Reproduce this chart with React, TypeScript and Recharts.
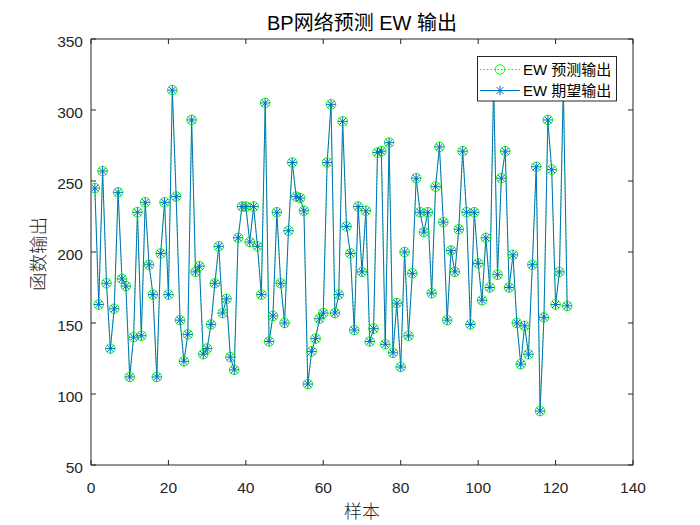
import React from "react";
import { LineChart, Line, XAxis, YAxis, Legend } from "recharts";

// EW 期望输出 (expected) and EW 预测输出 (predicted), per sample
const expected = [
  245, 163, 257, 178, 132, 160, 242, 181, 176, 112,
  140, 228, 141, 235, 191, 170, 112, 199, 235, 170,
  314, 239, 152, 123, 142, 293, 186, 190, 128, 132,
  149, 178, 204, 157, 167, 126, 117, 210, 232, 232,
  207, 232, 204, 170, 305, 137, 155, 228, 178, 150,
  215, 263, 239, 238, 229, 107, 130, 139, 153, 157,
  263, 304, 157, 170, 292, 218, 199, 145, 232, 186,
  229, 137, 146, 270, 271, 135, 277, 129, 164, 119,
  200, 141, 185, 252, 228, 214, 228, 171, 246, 274,
  221, 152, 201, 186, 216, 271, 228, 149, 228, 192,
  166, 210, 175, 318, 184, 252, 271, 175, 198, 150,
  121, 148, 128, 191, 260, 88, 154, 293, 258, 163,
  186, 316, 162,
];
const predicted = [
  245, 163, 257, 178, 132, 160, 242, 181, 176, 112,
  140, 228, 141, 235, 191, 170, 112, 199, 235, 170,
  314, 239, 152, 123, 142, 293, 186, 190, 128, 132,
  149, 178, 204, 157, 167, 126, 117, 210, 232, 232,
  207, 232, 204, 170, 305, 137, 155, 228, 178, 150,
  215, 263, 239, 238, 229, 107, 130, 139, 153, 157,
  263, 304, 157, 170, 292, 218, 199, 145, 232, 186,
  229, 137, 146, 270, 271, 135, 277, 129, 164, 119,
  200, 141, 185, 252, 228, 214, 228, 171, 246, 274,
  221, 152, 201, 186, 216, 271, 228, 149, 228, 192,
  166, 210, 175, 318, 184, 252, 271, 175, 198, 150,
  121, 148, 128, 191, 260, 88, 154, 293, 258, 163,
  186, 316, 162,
];
const samples = expected.map((_, i) => i + 1);

const xTicks = [0, 20, 40, 60, 80, 100, 120, 140];
const yTicks = [50, 100, 150, 200, 250, 300, 350];

const data = samples.map((s, i) => ({ x: s, pred: predicted[i], exp: expected[i] }));

const AX = "#262626";
const BLUE = "#0072BD";
const GREEN = "#00FF00";
const NUM_FONT = '"Liberation Sans", Arial, sans-serif';
const CJK_FONT = '"Liberation Sans", "Noto Sans CJK SC", sans-serif';

function Circle({ cx, cy }: any) {
  return <circle cx={cx} cy={cy} r={4.8} fill="none" stroke={GREEN} strokeWidth={1} />;
}

function Star({ cx, cy }: any) {
  const s = 4.8;
  const d = 3.4;
  return (
    <g stroke={BLUE} strokeWidth={1}>
      <line x1={cx - s} y1={cy} x2={cx + s} y2={cy} />
      <line x1={cx} y1={cy - s} x2={cx} y2={cy + s} />
      <line x1={cx - d} y1={cy - d} x2={cx + d} y2={cy + d} />
      <line x1={cx - d} y1={cy + d} x2={cx + d} y2={cy - d} />
    </g>
  );
}

const tickText = { fontFamily: NUM_FONT, fontSize: 15.5, fill: AX };

function BottomTick({ x, y, payload }: any) {
  return (
    <g>
      <line x1={x} x2={x} y1={y} y2={y - 5} stroke={AX} />
      <text x={x} y={y + 27.5} textAnchor="middle" {...tickText}>{payload.value}</text>
    </g>
  );
}
function TopTick({ x, y }: any) {
  return <line x1={x} x2={x} y1={y} y2={y + 5} stroke={AX} />;
}
function LeftTick({ x, y, payload }: any) {
  return (
    <g>
      <line x1={x} x2={x + 5} y1={y} y2={y} stroke={AX} />
      <text x={x - 8} y={y + 7.5} textAnchor="end" {...tickText}>{payload.value}</text>
    </g>
  );
}
function RightTick({ x, y }: any) {
  return <line x1={x} x2={x - 5} y1={y} y2={y} stroke={AX} />;
}

function LegendBox() {
  const rows = [
    { name: "EW 预测输出", color: GREEN, dash: "1.5 2", Mark: Circle },
    { name: "EW 期望输出", color: BLUE, dash: undefined, Mark: Star },
  ];
  return (
    <svg width={140} height={46} style={{ display: "block" }}>
      <rect x={0.5} y={0.5} width={139} height={44.5} fill="#fff" stroke={AX} />
      {rows.map((r, i) => {
        const cy = 13.5 + i * 21;
        return (
          <g key={r.name}>
            <line x1={3} x2={43} y1={cy} y2={cy} stroke={r.color} strokeWidth={1} strokeDasharray={r.dash} />
            <r.Mark cx={23} cy={cy} />
            <text x={46} y={cy + 5} fontFamily={CJK_FONT} fontSize={15} fill="#000">{r.name}</text>
          </g>
        );
      })}
    </svg>
  );
}

export default function App() {
  return (
    <div style={{ position: "absolute", left: 0, top: 0, width: 700, height: 525, background: "#fff" }}>
      <LineChart width={700} height={525} data={data} margin={{ top: 38, right: 66, bottom: 0, left: 0 }}>
        <XAxis
          dataKey="x" type="number" domain={[0, 140]} ticks={xTicks} allowDataOverflow
          height={60} tickSize={0} tickMargin={0} tick={<BottomTick />} interval={0}
          axisLine={{ stroke: AX }} tickLine={false}
          label={{
            content: ({ viewBox }: any) => (
              <text x={viewBox.x + viewBox.width / 2} y={viewBox.y + 53} textAnchor="middle"
                fontFamily={CJK_FONT} fontSize={18} fontWeight={300} fill={AX}>样本</text>
            ),
          }}
        />
        <XAxis
          xAxisId="top" orientation="top" dataKey="x" type="number" domain={[0, 140]} ticks={xTicks}
          allowDataOverflow height={1} tickSize={0} tickMargin={0} tick={<TopTick />} interval={0}
          axisLine={{ stroke: AX }} tickLine={false}
          label={{
            content: ({ viewBox }: any) => (
              <text x={viewBox.x + viewBox.width / 2} y={viewBox.y - 8} textAnchor="middle"
                fontFamily={CJK_FONT} fontSize={20} fill="#000">BP网络预测 EW 输出</text>
            ),
          }}
        />
        <YAxis
          type="number" domain={[50, 350]} ticks={yTicks} allowDataOverflow width={91}
          tickSize={0} tickMargin={0} tick={<LeftTick />} interval={0}
          axisLine={{ stroke: AX }} tickLine={false}
          label={{
            content: ({ viewBox }: any) => {
              const cx = 38;
              const cy = viewBox.y + viewBox.height / 2 + 2;
              return (
                <text x={cx} y={cy} textAnchor="middle" dominantBaseline="central"
                  transform={`rotate(-90 ${cx} ${cy})`} fontFamily={CJK_FONT} fontSize={18.5}
                  fontWeight={300} fill={AX}>
                  函数输出
                </text>
              );
            },
          }}
        />
        <YAxis
          yAxisId="r" orientation="right" type="number" domain={[50, 350]} ticks={yTicks}
          allowDataOverflow width={1} tickSize={0} tickMargin={0} tick={<RightTick />} interval={0}
          axisLine={{ stroke: AX }} tickLine={false}
        />
        <Line
          xAxisId="top" yAxisId="r"
          dataKey="pred" type="linear" stroke={GREEN} strokeWidth={0.8} strokeDasharray="1.5 2"
          dot={(p: any) => <Circle key={`c${p.index}`} cx={p.cx} cy={p.cy} />}
          isAnimationActive={false}
        />
        <Line
          dataKey="exp" type="linear" stroke={BLUE} strokeWidth={1}
          dot={(p: any) => <Star key={`s${p.index}`} cx={p.cx} cy={p.cy} />}
          isAnimationActive={false}
        />
        <Legend
          layout="horizontal" verticalAlign="middle" align="center"
          wrapperStyle={{ position: "absolute", left: 477, top: 56, width: 140, height: 46 }}
          content={() => <LegendBox />}
        />
      </LineChart>
    </div>
  );
}
